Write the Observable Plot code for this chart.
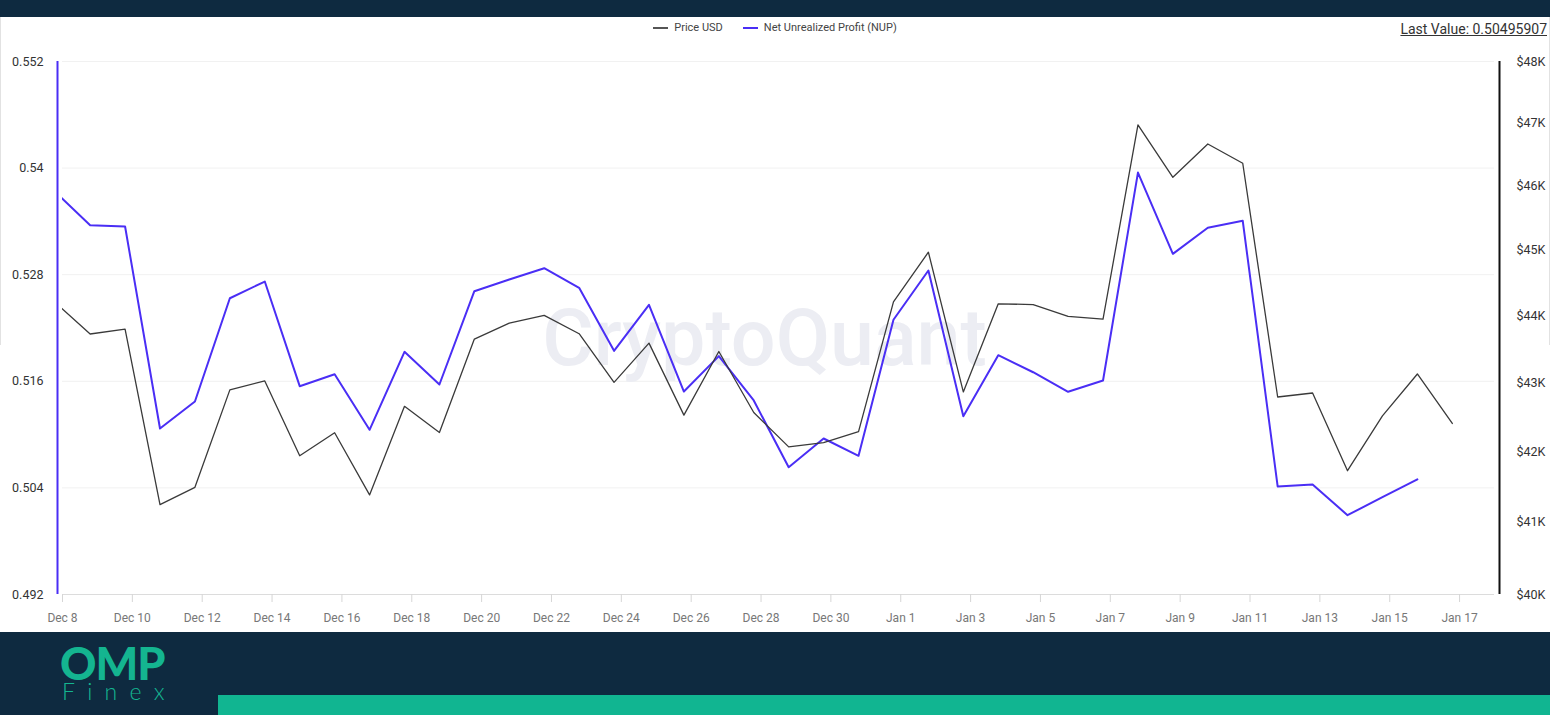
<!DOCTYPE html>
<html>
<head>
<meta charset="utf-8">
<script src="https://cdn.jsdelivr.net/npm/d3@7"></script>
<script src="https://cdn.jsdelivr.net/npm/@observablehq/plot@0.6"></script>
<style>
  html, body { margin: 0; padding: 0; }
  body { width: 1550px; height: 715px; overflow: hidden; background: #0e2a40; font-family: Roboto, "Noto Sans", sans-serif; }
  #top { height: 17px; background: #0e2a40; }
  #chart { position: relative; height: 615px; background: #fff; }
  #chart svg { position: absolute; left: 0; top: 0; }
  #legend { position: absolute; top: 3px; left: 0; right: 0; display: flex; justify-content: center; gap: 20px; font-size: 11px; color: #444; line-height: 16px; z-index: 2; }
  #legend .item { display: flex; align-items: center; }
  #legend .sw { display: inline-block; width: 15px; height: 2px; margin-right: 6px; }
  #lastval { position: absolute; top: 3px; right: 3px; font-size: 14px; color: #333; text-decoration: underline; line-height: 18px; z-index: 2; }
  .edge { position: absolute; top: 0; width: 1px; height: 328px; background: #e2e2e2; }
  #footer { position: relative; height: 83px; background: #0e2a40; }
  #logo { position: absolute; left: 60px; top: 15px; height: 32px; color: #14b590; font-family: Lato, sans-serif; font-weight: 900; font-size: 45px; line-height: 32px; letter-spacing: -1px; }
  #finex { position: absolute; left: 62px; top: 50px; height: 18px; color: #14b590; font-family: Lato, sans-serif; font-weight: 300; font-size: 23px; line-height: 18px; letter-spacing: 12.3px; }
  #bar { position: absolute; left: 218px; right: 0; top: 63px; height: 20px; background: #11b591; }
</style>
</head>
<body>
<div id="top"></div>
<div id="chart">
  <div class="edge" style="left:0"></div>
  <div class="edge" style="right:0"></div>
  <div id="legend">
    <div class="item"><span class="sw" style="background:#555"></span>Price USD</div>
    <div class="item"><span class="sw" style="background:#4a2ef5"></span>Net Unrealized Profit (NUP)</div>
  </div>
  <div id="lastval">Last Value: 0.50495907</div>
</div>
<div id="footer">
  <div id="logo">OMP</div>
  <div id="finex">Finex</div>
  <div id="bar"></div>
</div>
<script>
// ---- data ----
const dates = [
  "2023-12-08","2023-12-09","2023-12-10","2023-12-11","2023-12-12","2023-12-13","2023-12-14",
  "2023-12-15","2023-12-16","2023-12-17","2023-12-18","2023-12-19","2023-12-20","2023-12-21",
  "2023-12-22","2023-12-23","2023-12-24","2023-12-25","2023-12-26","2023-12-27","2023-12-28",
  "2023-12-29","2023-12-30","2023-12-31","2024-01-01","2024-01-02","2024-01-03","2024-01-04",
  "2024-01-05","2024-01-06","2024-01-07","2024-01-08","2024-01-09","2024-01-10","2024-01-11",
  "2024-01-12","2024-01-13","2024-01-14","2024-01-15","2024-01-16","2024-01-17"
];
const priceUSD = [
  44203, 43728, 43800, 41248, 41494, 42900, 43032,
  41944, 42275, 41386, 42659, 42280, 43652, 43891,
  44008, 43732, 43011, 43592, 42531, 43467, 42569,
  42072, 42134, 42291, 44212, 44969, 42870, 44182,
  44170, 43992, 43952, 46971, 46136, 46665, 46358,
  42796, 42854, 41730, 42520, 43134, 42410
];
const nup = [
  0.53731, 0.53357, 0.53343, 0.51069, 0.51373, 0.52535, 0.52723,
  0.51545, 0.51680, 0.51054, 0.51932, 0.51564, 0.52614, 0.52746,
  0.52873, 0.52653, 0.51943, 0.52461, 0.51485, 0.51883, 0.51384,
  0.50633, 0.50956, 0.50761, 0.52293, 0.52847, 0.51207, 0.51894,
  0.51702, 0.51482, 0.51609, 0.53950, 0.53035, 0.53328, 0.53407,
  0.50416, 0.50438, 0.50093, 0.50295, 0.50495907, null
];
const nupTicks = [0.492, 0.504, 0.516, 0.528, 0.54, 0.552];
const priceTicks = [40000, 41000, 42000, 43000, 44000, 45000, 46000, 47000, 48000];
const tickDays = [
  "2023-12-08","2023-12-10","2023-12-12","2023-12-14","2023-12-16","2023-12-18","2023-12-20",
  "2023-12-22","2023-12-24","2023-12-26","2023-12-28","2023-12-30","2024-01-01","2024-01-03",
  "2024-01-05","2024-01-07","2024-01-09","2024-01-11","2024-01-13","2024-01-15","2024-01-17"
];
const watermark = "CryptoQuant";

// ---- build ----
const rows = dates.map((d, i) => ({date: new Date(d + "T00:00:00Z"), price: priceUSD[i], nup: nup[i]}));
// axis labels are shown at local (UTC-5) midnight
const tickDates = tickDays.map(d => new Date(d + "T05:00:00Z"));
const yMin = nupTicks[0], yMax = nupTicks[nupTicks.length - 1];
const priceToY = d3.scaleLog().domain([priceTicks[0], priceTicks[priceTicks.length - 1]]).range([yMin, yMax]);
const xDomain = [tickDates[0], new Date("2024-01-18T05:00:00Z")];
const fmtTick = d3.utcFormat("%b %-d");

const chart = Plot.plot({
  width: 1550,
  height: 615,
  marginTop: 44,
  marginBottom: 38,
  marginLeft: 62,
  marginRight: 56,
  style: {background: "transparent", fontFamily: "Roboto, 'Noto Sans', sans-serif", fontSize: "12px", overflow: "visible"},
  x: {type: "utc", domain: xDomain, label: null},
  y: {domain: [yMin, yMax], label: null},
  marks: [
    Plot.gridY(nupTicks, {stroke: "#f1f1f1", strokeOpacity: 1}),
    Plot.text([watermark], {frameAnchor: "middle", text: d => d, fontSize: 79, fontWeight: 500, fill: "#ecedf3", dx: -14, dy: 12}),
    Plot.ruleY([yMin], {stroke: "#dcdcdc", strokeWidth: 1}),
    Plot.axisX(tickDates, {label: null, tickSize: 8, tickPadding: 11, stroke: "#d6d6d6", fill: "#777", fontSize: 12, tickFormat: fmtTick}),
    Plot.axisY(nupTicks, {label: null, anchor: "left", tickSize: 0, tickPadding: 19, fill: "#333", fontSize: 12.5, tickFormat: d => String(d)}),
    Plot.axisY(priceTicks.map(p => priceToY(p)), {label: null, anchor: "right", tickSize: 0, tickPadding: 22, fill: "#333", fontSize: 12.5,
      tickFormat: v => "$" + Math.round(priceToY.invert(v) / 1000) + "K"}),
    Plot.ruleX([xDomain[0]], {stroke: "#4a2ef5", strokeWidth: 2, dx: -5}),
    Plot.ruleX([xDomain[1]], {stroke: "#111", strokeWidth: 2, dx: 5}),
    Plot.line(rows, {x: "date", y: "nup", stroke: "#4a2ef5", strokeWidth: 2, clip: true}),
    Plot.line(rows, {x: "date", y: d => priceToY(d.price), stroke: "#3a3a3a", strokeWidth: 1.3, clip: true})
  ]
});
document.getElementById("chart").appendChild(chart);
</script>
</body>
</html>
